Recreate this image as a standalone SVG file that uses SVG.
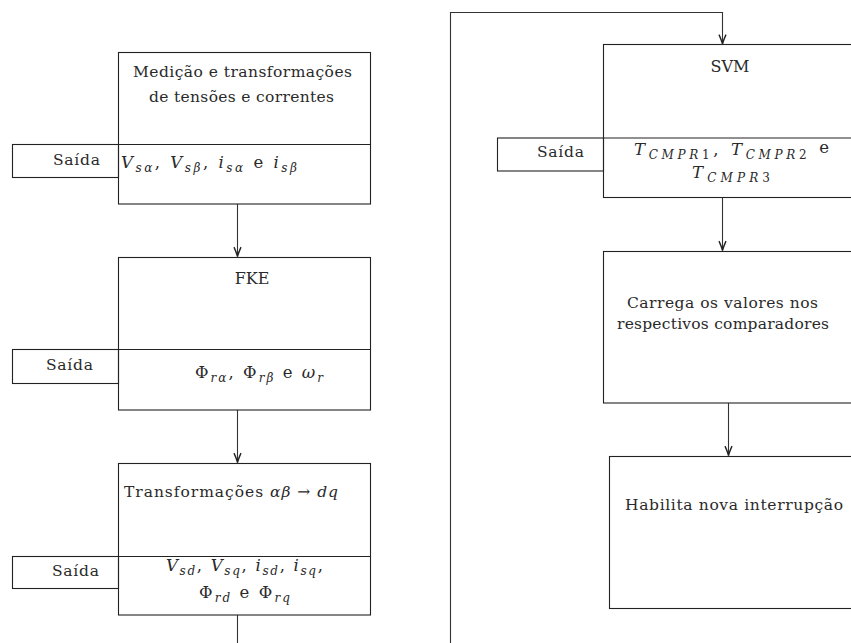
<svg xmlns="http://www.w3.org/2000/svg" width="851" height="643" viewBox="0 0 851 643">
<style>
.box{fill:none;stroke:#222;stroke-width:1.1}
.ln{fill:none;stroke:#333;stroke-width:1.1}
text{font-family:"DejaVu Serif","Liberation Serif",serif;font-size:15.5px;fill:#2a2a2a}
text.m{font-size:16.5px}
text.c{text-anchor:middle;font-size:16px}
.i{font-style:italic}
.s{font-size:12px;font-style:italic}
.su{font-size:12px}
</style>
<defs>
<marker id="ah" markerUnits="userSpaceOnUse" markerWidth="12" markerHeight="10" refX="0" refY="0" viewBox="-8 -4 9 8" orient="auto">
<path d="M-7.5,-2.8 Q-2.5,-0.6 0,0 Q-2.5,0.6 -7.5,2.8" fill="none" stroke="#222" stroke-width="1.1"/>
</marker>
</defs>

<g id="connectors">
<line class="ln" x1="237.5" y1="204" x2="237.5" y2="256.5" marker-end="url(#ah)"/>
<line class="ln" x1="237.5" y1="410" x2="237.5" y2="462.5" marker-end="url(#ah)"/>
<polyline class="ln" points="237.5,615 237.5,643"/>
<polyline class="ln" points="450.5,643 450.5,12.5 722.5,12.5 722.5,44" marker-end="url(#ah)"/>
<line class="ln" x1="722.5" y1="198" x2="722.5" y2="250.5" marker-end="url(#ah)"/>
<line class="ln" x1="728.5" y1="403" x2="728.5" y2="455.5" marker-end="url(#ah)"/>
</g>

<g id="medicao">
<rect class="box" x="118.5" y="52.5" width="252" height="151.5"/>
<line class="box" x1="118.5" y1="144.5" x2="370.5" y2="144.5"/>
<text x="133" y="77" textLength="219" lengthAdjust="spacing">Medição e transformações</text>
<text x="149" y="102" textLength="185" lengthAdjust="spacing">de tensões e correntes</text>
<text class="m" x="121" y="168" textLength="176" lengthAdjust="spacing"><tspan class="i">V</tspan><tspan class="s" dy="4">sα</tspan><tspan dy="-4">, </tspan><tspan class="i">V</tspan><tspan class="s" dy="4">sβ</tspan><tspan dy="-4">, </tspan><tspan class="i">i</tspan><tspan class="s" dy="4">sα</tspan><tspan dy="-4"> e </tspan><tspan class="i">i</tspan><tspan class="s" dy="4">sβ</tspan></text>
</g>
<g id="saida1">
<rect class="box" x="12.5" y="144.5" width="106" height="33"/>
<text x="53" y="165" textLength="47" lengthAdjust="spacing">Saída</text>
</g>

<g id="fke">
<rect class="box" x="118.5" y="257.5" width="252" height="152.5"/>
<line class="box" x1="118.5" y1="349.5" x2="370.5" y2="349.5"/>
<text class="c" x="252" y="284">FKE</text>
<text class="m" x="195" y="378" textLength="128" lengthAdjust="spacing">Φ<tspan class="s" dy="4">rα</tspan><tspan dy="-4">, Φ</tspan><tspan class="s" dy="4">rβ</tspan><tspan dy="-4"> e </tspan><tspan class="i">ω</tspan><tspan class="s" dy="4">r</tspan></text>
</g>
<g id="saida2">
<rect class="box" x="12.5" y="349.5" width="106" height="34"/>
<text x="46" y="370" textLength="47" lengthAdjust="spacing">Saída</text>
</g>

<g id="transf">
<rect class="box" x="118.5" y="463.5" width="252" height="151.5"/>
<line class="box" x1="118.5" y1="556.5" x2="370.5" y2="556.5"/>
<text x="124" y="497" textLength="214" lengthAdjust="spacing">Transformações <tspan class="i">αβ</tspan> → <tspan class="i">dq</tspan></text>
<text class="m" x="166" y="571" textLength="157" lengthAdjust="spacing"><tspan class="i">V</tspan><tspan class="s" dy="4">sd</tspan><tspan dy="-4">, </tspan><tspan class="i">V</tspan><tspan class="s" dy="4">sq</tspan><tspan dy="-4">, </tspan><tspan class="i">i</tspan><tspan class="s" dy="4">sd</tspan><tspan dy="-4">, </tspan><tspan class="i">i</tspan><tspan class="s" dy="4">sq</tspan><tspan dy="-4">,</tspan></text>
<text class="m" x="199" y="598" textLength="91" lengthAdjust="spacing">Φ<tspan class="s" dy="4">rd</tspan><tspan dy="-4"> e Φ</tspan><tspan class="s" dy="4">rq</tspan></text>
</g>
<g id="saida3">
<rect class="box" x="12.5" y="556.5" width="106" height="32"/>
<text x="52" y="576" textLength="47" lengthAdjust="spacing">Saída</text>
</g>

<g id="svm">
<rect class="box" x="603.5" y="44.5" width="252" height="153"/>
<line class="box" x1="603.5" y1="138" x2="855" y2="138"/>
<text class="c" x="730" y="72">SVM</text>
<text class="m" x="634" y="155" textLength="195" lengthAdjust="spacing"><tspan class="i">T</tspan><tspan class="s" dy="4">CMPR</tspan><tspan class="su">1</tspan><tspan dy="-4">, </tspan><tspan class="i">T</tspan><tspan class="s" dy="4">CMPR</tspan><tspan class="su">2</tspan><tspan dy="-6"> e</tspan></text>
<text class="m" x="692" y="178" textLength="78" lengthAdjust="spacing"><tspan class="i">T</tspan><tspan class="s" dy="4">CMPR</tspan><tspan class="su">3</tspan></text>
</g>
<g id="saida4">
<rect class="box" x="497.5" y="138" width="106" height="33"/>
<text x="537" y="157" textLength="47" lengthAdjust="spacing">Saída</text>
</g>

<g id="carrega">
<rect class="box" x="603.5" y="251.5" width="252" height="151.5"/>
<text x="627" y="308" textLength="191" lengthAdjust="spacing">Carrega os valores nos</text>
<text x="617" y="329" textLength="212" lengthAdjust="spacing">respectivos comparadores</text>
</g>

<g id="habilita">
<rect class="box" x="609.5" y="456.5" width="252" height="152"/>
<text x="625" y="510" textLength="218" lengthAdjust="spacing">Habilita nova interrupção</text>
</g>
</svg>
